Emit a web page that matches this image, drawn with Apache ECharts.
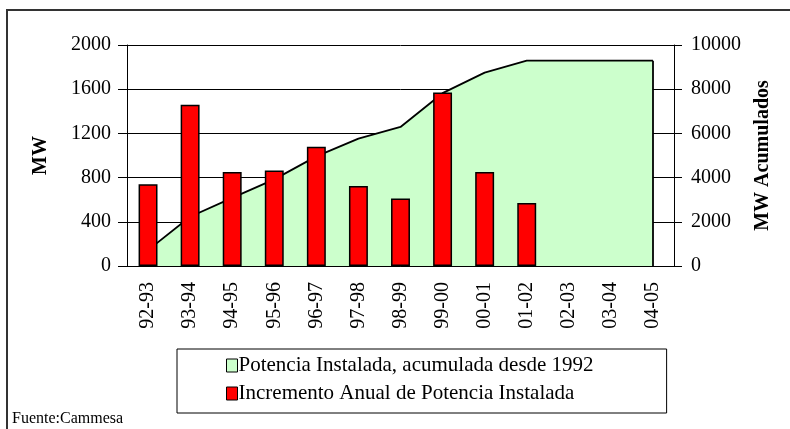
<!DOCTYPE html>
<html>
<head>
<meta charset="utf-8">
<script src="https://cdn.jsdelivr.net/npm/echarts@6/dist/echarts.min.js"></script>
<style>
  html, body { margin: 0; padding: 0; background: #fff; }
  #chart { width: 790px; height: 429px; }
</style>
</head>
<body>
<div id="chart"></div>
<script>
// datos
var categorias = ['92-93', '93-94', '94-95', '95-96', '96-97', '97-98', '98-99', '99-00', '00-01', '01-02', '02-03', '03-04', '04-05'];
var incremento = [740, 1460, 850, 865, 1080, 725, 610, 1570, 850, 570];
var acumulada = [720, 2230, 3080, 3920, 4960, 5760, 6290, 7820, 8750, 9290, 9290, 9290, 9290];
var ticksMW = [0, 400, 800, 1200, 1600, 2000];
var ticksAcum = [0, 2000, 4000, 6000, 8000, 10000];

var serif = "'Liberation Serif', 'Times New Roman', serif";

var myChart = echarts.init(document.getElementById('chart'));
var option = {
    animation: false,
    grid: { left: 127, right: 116, top: 45, bottom: 163 },
    legend: {
        left: 177,
        top: 349,
        orient: 'vertical',
        padding: [6, 73, 9, 49],
        itemGap: 7,
        itemWidth: 11,
        itemHeight: 13,
        borderColor: '#000',
        borderWidth: 1,
        textStyle: { fontFamily: serif, fontSize: 21, color: '#000', padding: [0, 0, 0, -4], lineHeight: 20 },
        data: [
            { name: 'Potencia Instalada, acumulada desde 1992', icon: 'rect',
              itemStyle: { color: '#CCFFCC', borderColor: '#000', borderWidth: 1 }, lineStyle: { width: 0 } },
            { name: 'Incremento Anual de Potencia Instalada', icon: 'rect',
              itemStyle: { color: '#FF0000', borderColor: '#000', borderWidth: 1 } }
        ]
    },
    xAxis: [
        {
            type: 'category',
            data: categorias,
            axisLine: { lineStyle: { color: '#000', width: 1 } },
            axisTick: { inside: true, length: 8, lineStyle: { color: '#000' } },
            axisLabel: { rotate: 90, margin: 16, fontFamily: serif, fontSize: 20, color: '#000' }
        },
        {
            type: 'category',
            data: categorias,
            position: 'bottom',
            axisLine: { show: false },
            axisTick: { length: 7, lineStyle: { color: '#000' } },
            axisLabel: { show: false }
        }
    ],
    yAxis: [
        {
            type: 'value',
            min: ticksMW[0],
            max: ticksMW[ticksMW.length - 1],
            interval: ticksMW[1] - ticksMW[0],
            name: 'MW',
            nameLocation: 'middle',
            nameRotate: 90,
            nameGap: 76,
            nameTextStyle: { fontFamily: serif, fontSize: 20, fontWeight: 'bold', color: '#000' },
            axisLine: { show: true, lineStyle: { color: '#000' } },
            axisTick: { show: true, length: 9, lineStyle: { color: '#000' } },
            axisLabel: { margin: 16, fontFamily: serif, fontSize: 20, color: '#000',
                         formatter: function (v) { return String(v); } },
            splitLine: { lineStyle: { color: '#000', width: 1 } }
        },
        {
            type: 'value',
            min: ticksAcum[0],
            max: ticksAcum[ticksAcum.length - 1],
            interval: ticksAcum[1] - ticksAcum[0],
            name: 'MW Acumulados',
            nameLocation: 'middle',
            nameRotate: 90,
            nameGap: 79,
            nameTextStyle: { fontFamily: serif, fontSize: 20, fontWeight: 'bold', color: '#000', verticalAlign: 'top' },
            axisLine: { show: true, lineStyle: { color: '#000' } },
            axisTick: { show: true, length: 8, lineStyle: { color: '#000' } },
            axisLabel: { margin: 17, fontFamily: serif, fontSize: 20, color: '#000',
                         formatter: function (v) { return String(v); } },
            splitLine: { show: false }
        }
    ],
    series: [
        {
            name: 'Potencia Instalada, acumulada desde 1992',
            type: 'line',
            yAxisIndex: 1,
            data: acumulada,
            symbol: 'none',
            z: 1,
            itemStyle: { color: '#CCFFCC' },
            lineStyle: { color: '#000', width: 1.8 },
            areaStyle: { color: '#CCFFCC', opacity: 1 },
            markLine: {
                silent: true,
                symbol: 'none',
                label: { show: false },
                lineStyle: { color: '#000', width: 1.8, type: 'solid' },
                data: [[
                    { coord: [categorias[categorias.length - 1], 0] },
                    { coord: [categorias[categorias.length - 1], acumulada[acumulada.length - 1]] }
                ]]
            }
        },
        {
            name: 'Incremento Anual de Potencia Instalada',
            type: 'bar',
            yAxisIndex: 0,
            data: incremento,
            barWidth: '45%',
            z: 3,
            itemStyle: { color: '#FF0000', borderColor: '#000', borderWidth: 1.5 }
        }
    ],
    graphic: [
        {
            type: 'polyline',
            shape: { points: [[7, 429], [7, 10], [790, 10]] },
            style: { stroke: '#333', lineWidth: 2, fill: null }
        },
        {
            type: 'text',
            left: 12,
            top: 411,
            style: { text: 'Fuente:Cammesa', font: '16px ' + serif, fill: '#000' }
        }
    ]
};
myChart.setOption(option);
</script>
</body>
</html>
